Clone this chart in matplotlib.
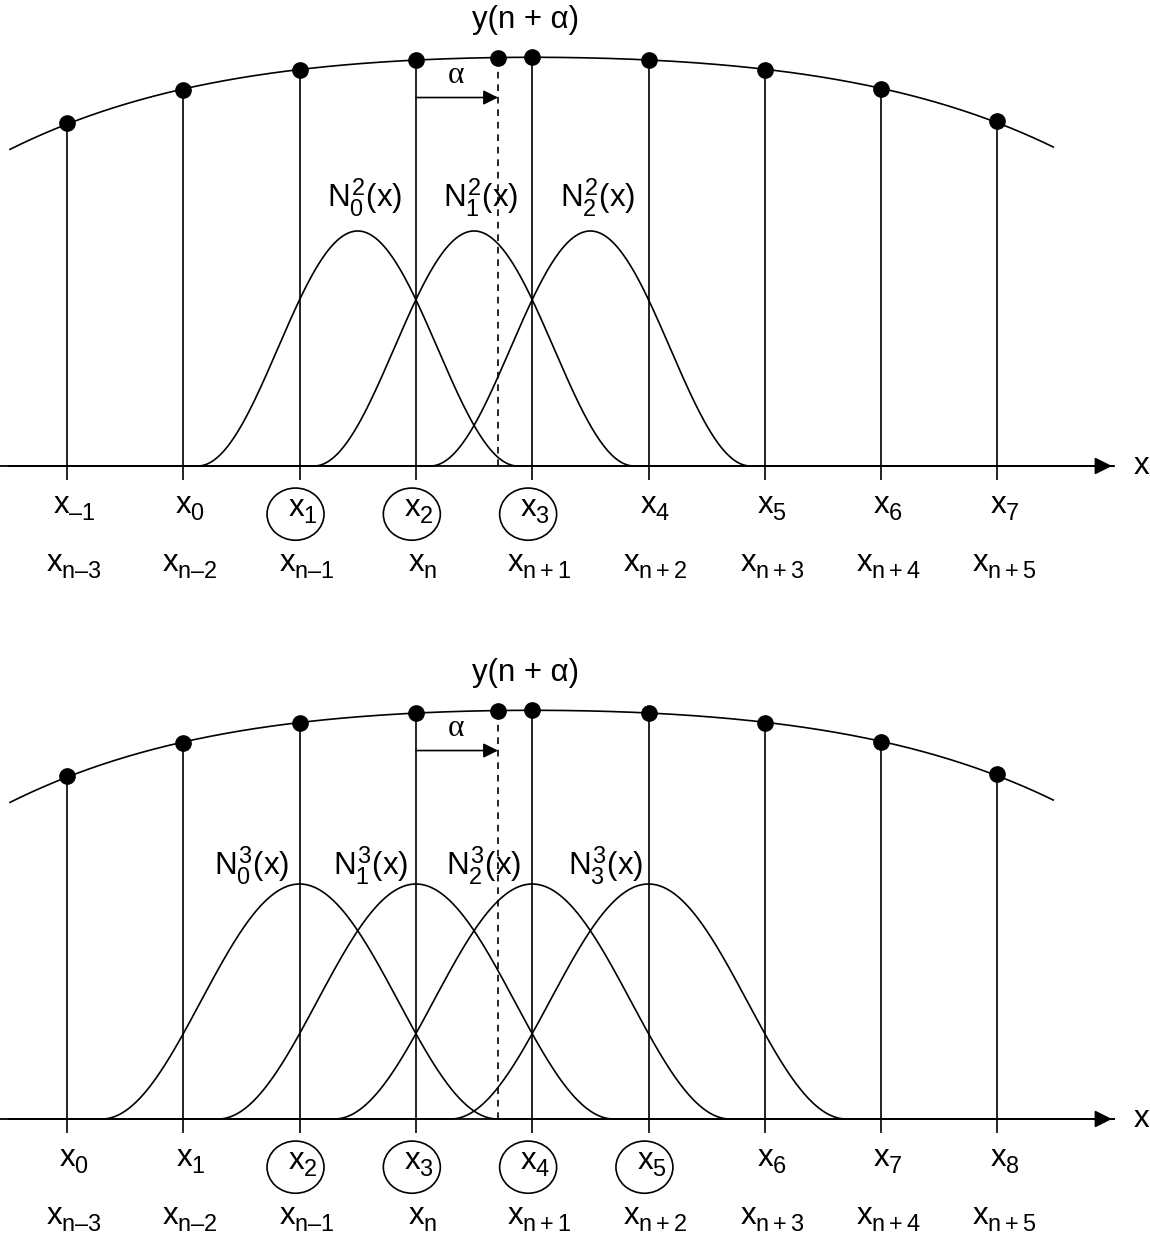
import numpy as np
import matplotlib.pyplot as plt
import matplotlib._mathtext as mtx
from matplotlib.patches import Ellipse

plt.rcParams['font.family'] = ['Liberation Sans', 'DejaVu Sans']
plt.rcParams['mathtext.fontset'] = 'custom'
plt.rcParams['mathtext.rm'] = 'Liberation Sans'
plt.rcParams['mathtext.it'] = 'Liberation Sans'
plt.rcParams['mathtext.bf'] = 'Liberation Sans:bold'
# drop subscripts a little lower and make them a bit larger, like the reference
mtx.FontConstantsBase.sub1 = 0.42
mtx.FontConstantsBase.sub2 = 0.55
mtx.SHRINK_FACTOR = 0.75

# knot positions (index units) and the sampled curve y(x) at the knots
knots = np.arange(9)
dot_vals = [1.46, 1.60, 1.687, 1.728, 1.742, 1.728, 1.685, 1.605, 1.468]
alpha_x = 3.706
alpha_val = 1.738
curve_end_x = [-0.49, 8.48]
curve_end_vals = [1.345, 1.353]

# top panel: quadratic basis, bottom panel: cubic basis
top_labels = [r'$x_{–1}$', r'$x_0$', r'$x_1$', r'$x_2$', r'$x_3$', r'$x_4$', r'$x_5$', r'$x_6$', r'$x_7$']
bot_labels = [r'$x_0$', r'$x_1$', r'$x_2$', r'$x_3$', r'$x_4$', r'$x_5$', r'$x_6$', r'$x_7$', r'$x_8$']
n_labels = [r'$x_{n–3}$', r'$x_{n–2}$', r'$x_{n–1}$', r'$x_n$', r'$x_{n+1}$',
            r'$x_{n+2}$', r'$x_{n+3}$', r'$x_{n+4}$', r'$x_{n+5}$']
top_circled = [2, 3, 4]
bot_circled = [2, 3, 4, 5]

top_peaks = [2.5, 3.5, 4.5]
top_halfwidth = 1.375
top_names = [r'$N_0^2(x)$', r'$N_1^2(x)$', r'$N_2^2(x)$']
top_name_x = [2.56, 3.56, 4.56]

bot_peaks = [2, 3, 4, 5]
bot_halfwidth = 1.70
bot_names = [r'$N_0^3(x)$', r'$N_1^3(x)$', r'$N_2^3(x)$', r'$N_3^3(x)$']
bot_name_x = [1.59, 2.61, 3.58, 4.63]

FS = 22.5
LW = 1.2


def basis(x, c, w):
    d = np.abs(x - c)
    return np.where(d < w, np.cos(np.pi * d / (2 * w)) ** 2, 0.0)


def panel(ax, labels, circled, peaks, hw, names, name_x, name_y):
    # smooth curve through the sampled points
    px = np.concatenate([curve_end_x[:1], knots, curve_end_x[1:]])
    py = np.concatenate([curve_end_vals[:1], dot_vals, curve_end_vals[1:]])
    coef = np.polyfit(px, py, 4)
    xs = np.linspace(curve_end_x[0], curve_end_x[1], 400)
    ax.plot(xs, np.polyval(coef, xs), color='k', lw=LW)

    ax.vlines(knots, -0.06, dot_vals, color='k', lw=LW)
    ax.plot(knots, dot_vals, 'o', color='k', ms=11, zorder=5)
    ax.plot([alpha_x], [alpha_val], 'o', color='k', ms=11, zorder=5)
    ax.vlines(alpha_x, 0, alpha_val - 0.04, color='k', lw=LW, linestyles=(0, (4, 3.5)))

    # alpha arrow
    ax.annotate('', xy=(alpha_x, 1.568), xytext=(3, 1.568),
                arrowprops=dict(arrowstyle='-|>', color='k', lw=LW,
                                mutation_scale=22, shrinkA=0, shrinkB=0))
    ax.text(3.34, 1.63, 'α', fontsize=FS, ha='center', va='baseline',
            family=['Liberation Serif'])
    ax.text(3.94, 1.865, 'y(n + α)', fontsize=FS, ha='center', va='baseline')

    # x axis with arrow
    ax.annotate('', xy=(8.985, 0), xytext=(-0.6, 0),
                arrowprops=dict(arrowstyle='-|>', color='k', lw=1.3,
                                mutation_scale=26, shrinkA=0, shrinkB=0))
    ax.text(9.24, 0, 'x', fontsize=FS, ha='center', va='center')

    # basis functions
    xs = np.linspace(-0.5, 9, 1200)
    for c in peaks:
        ax.plot(xs, basis(xs, c, hw), color='k', lw=LW)
    for nm, nx in zip(names, name_x):
        ax.text(nx, name_y, nm, fontsize=FS, ha='center', va='baseline')

    for i, (k, lab) in enumerate(zip(knots, labels)):
        sx = k - 0.035 if i in circled else k
        ty = -0.215 if i in circled else -0.205
        ax.text(sx + 0.06, ty, lab, fontsize=FS, ha='center', va='baseline')
        ax.text(k + 0.06, -0.45, n_labels[i], fontsize=FS, ha='center', va='baseline')
        if i in circled:
            ax.add_patch(Ellipse((sx, -0.205), 0.49, 0.222, fill=False,
                                 edgecolor='k', lw=LW))

    ax.set_xlim(-0.576, 9.312)
    ax.axis('off')


fig = plt.figure(figsize=(11.5, 12.44), dpi=100)
ax1 = fig.add_axes([0, 0.5, 1, 0.5])
ax1.set_ylim(-0.664, 1.983)
panel(ax1, top_labels, top_circled, top_peaks, top_halfwidth, top_names, top_name_x, 1.102)

ax2 = fig.add_axes([0, 0, 1, 0.5])
ax2.set_ylim(-0.532, 2.115)
panel(ax2, bot_labels, bot_circled, bot_peaks, bot_halfwidth, bot_names, bot_name_x, 1.038)

fig.savefig('out.png', dpi=100)
